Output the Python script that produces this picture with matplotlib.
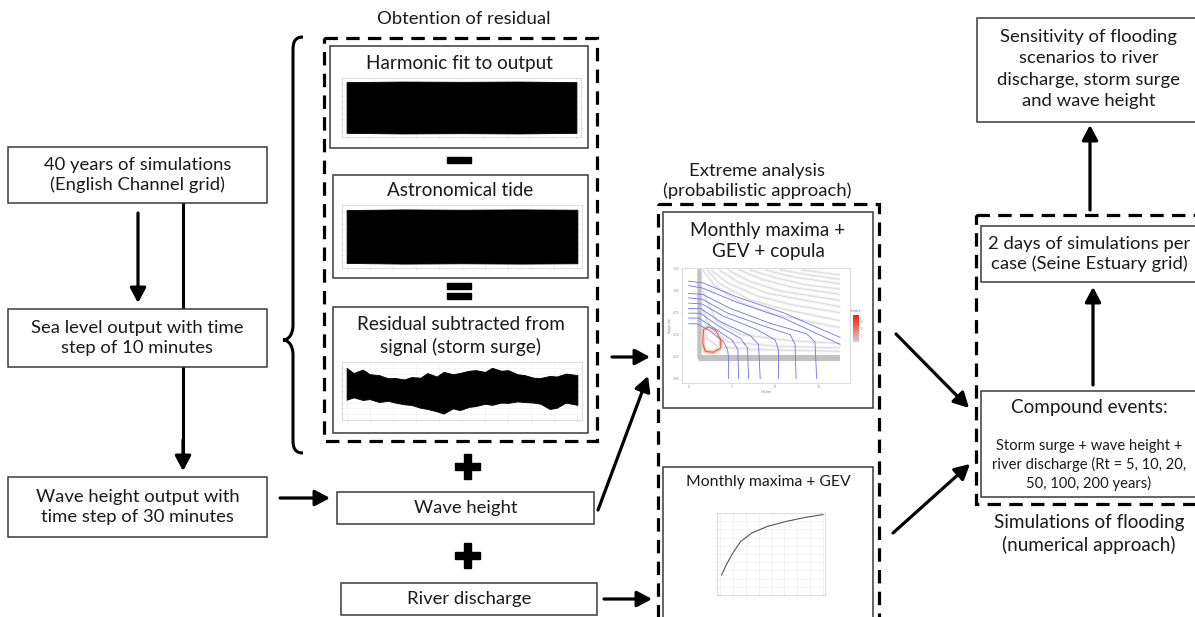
import numpy as np
import matplotlib.pyplot as plt
import matplotlib as mpl
from matplotlib.patches import Rectangle, PathPatch, Polygon
from matplotlib.path import Path
from matplotlib.colors import LinearSegmentedColormap, Normalize

plt.rcParams['font.family'] = ['Lato', 'DejaVu Sans']

W, H = 1195, 617

# ---- texts ----
left_labels = ["40 years of simulations\n(English Channel grid)",
               "Sea level output with time\nstep of 10 minutes",
               "Wave height output with\ntime step of 30 minutes"]
residual_title = "Obtention of residual"
residual_panels = ["Harmonic fit to output", "Astronomical tide",
                   "Residual subtracted from\nsignal (storm surge)"]
input_labels = ["Wave height", "River discharge"]
extreme_title = "Extreme analysis\n(probabilistic approach)"
extreme_panels = ["Monthly maxima +\nGEV + copula", "Monthly maxima + GEV"]
flood_title = "Simulations of flooding\n(numerical approach)"
days_label = "2 days of simulations per\ncase (Seine Estuary grid)"
compound_head = "Compound events:"
compound_body = "Storm surge + wave height +\nriver discharge (Rt = 5, 10, 20,\n50, 100, 200 years)"
sensitivity_label = "Sensitivity of flooding\nscenarios to river\ndischarge, storm surge\nand wave height"

# ---- thumbnail signals (envelopes) ----
harmonic_t = [0, 0.25, 0.5, 0.75, 1.0]
harmonic_upper = [0.86, 0.88, 0.87, 0.88, 0.86]
harmonic_lower = [-0.86, -0.88, -0.87, -0.88, -0.86]
tide_upper = [0.84, 0.86, 0.85, 0.86, 0.85]
tide_lower = [-0.84, -0.86, -0.85, -0.86, -0.85]

resid_t = [0.0, 0.03, 0.07, 0.10, 0.14, 0.18, 0.21, 0.25, 0.28, 0.32, 0.35, 0.39, 0.42, 0.46,
           0.49, 0.53, 0.56, 0.60, 0.63, 0.67, 0.70, 0.74, 0.77, 0.81, 0.84, 0.88, 0.91, 0.95, 1.0]
resid_upper = [0.80, 0.62, 0.74, 0.58, 0.55, 0.44, 0.45, 0.40, 0.48, 0.46, 0.62, 0.50, 0.66,
               0.58, 0.62, 0.70, 0.72, 0.66, 0.80, 0.70, 0.72, 0.58, 0.55, 0.46, 0.45, 0.52,
               0.50, 0.60, 0.55]
resid_lower = [-0.30, -0.22, -0.31, -0.28, -0.38, -0.34, -0.40, -0.46, -0.48, -0.58, -0.62,
               -0.70, -0.78, -0.60, -0.66, -0.55, -0.52, -0.44, -0.48, -0.40, -0.41, -0.36,
               -0.38, -0.40, -0.44, -0.62, -0.58, -0.40, -0.48]

# copula thumbnail: return-level curves (Hs, surge)
copula_curves = [
    [(0, 0.625), (0.96, 0.625), (2.5, 0.54), (4.04, 0.42), (4.5, 0.33), (4.62, 0.22), (4.62, 0)],
    [(0, 0.69), (1.15, 0.69), (2.88, 0.58), (5.0, 0.44), (5.69, 0.33), (5.77, 0)],
    [(0, 0.745), (1.35, 0.745), (3.27, 0.61), (5.96, 0.46), (6.81, 0.35), (6.92, 0)],
    [(0, 0.80), (1.42, 0.795), (3.65, 0.65), (7.12, 0.49), (8.08, 0.39), (8.27, 0)],
    [(0, 0.86), (1.54, 0.85), (4.04, 0.71), (7.88, 0.56), (10.0, 0.44), (10.38, 0.33), (10.38, 0)],
    [(0, 0.92), (1.54, 0.905), (4.42, 0.75), (8.65, 0.60), (11.73, 0.50), (12.3, 0.39), (12.42, 0)],
    [(0, 0.97), (1.62, 0.96), (4.81, 0.80), (9.42, 0.63), (13.65, 0.51), (14.6, 0.42), (14.8, 0)],
    [(0, 1.06), (1.65, 1.03), (5.58, 0.87), (10.96, 0.69), (17.5, 0.39)],
    [(0, 1.11), (1.65, 1.09), (5.58, 0.93), (10.96, 0.75), (17.5, 0.47)],
]
density_contours = [
    [(1.6, 1.24), (3.0, 1.06), (6.0, 0.87), (10.0, 0.73), (17.5, 0.58)],
    [(2.1, 1.24), (3.6, 1.08), (7.0, 0.90), (11.0, 0.79), (17.5, 0.66)],
    [(2.6, 1.24), (4.5, 1.09), (8.0, 0.94), (12.0, 0.84), (17.5, 0.75)],
    [(3.5, 1.24), (5.7, 1.10), (9.2, 0.97), (17.5, 0.82)],
    [(4.5, 1.24), (7.0, 1.11), (10.5, 1.00), (17.5, 0.89)],
    [(5.8, 1.24), (8.5, 1.13), (12.0, 1.04), (17.5, 0.96)],
    [(7.0, 1.24), (10.0, 1.15), (13.5, 1.07), (17.5, 1.02)],
    [(8.8, 1.24), (12.0, 1.16), (17.5, 1.08)],
    [(10.5, 1.24), (14.0, 1.18), (17.5, 1.13)],
    [(13.0, 1.24), (17.5, 1.18)],
    [(1.6, 0.60), (2.2, 0.45), (3.5, 0.36), (8.0, 0.33), (17.5, 0.31)],
    [(1.6, 0.80), (2.6, 0.55), (4.5, 0.42), (10.0, 0.37), (17.5, 0.35)],
    [(1.6, 1.00), (3.2, 0.66), (6.0, 0.50), (12.0, 0.43), (17.5, 0.40)],
]
red_loop = [(1.73, 0.56), (2.31, 0.59), (3.08, 0.55), (3.7, 0.45), (3.7, 0.35),
            (2.88, 0.30), (1.92, 0.31), (1.62, 0.405)]
copula_xticks = [0, 5, 10, 15]
copula_yticks = [0.00, 0.25, 0.50, 0.75, 1.00, 1.25]

# GEV thumbnail
gev_x = [0.015, 0.06, 0.123, 0.2, 0.308, 0.46, 0.646, 0.83, 1.0]
gev_y = [0.245, 0.367, 0.51, 0.653, 0.755, 0.837, 0.898, 0.947, 0.98]

fig = plt.figure(figsize=(W / 100, H / 100), dpi=100)
ax = fig.add_axes([0, 0, 1, 1])
ax.set_xlim(0, W)
ax.set_ylim(H, 0)
ax.axis('off')

FS = 13.3
EDGE = '#3a3a3a'


def box(x0, y0, x1, y1, dashed=False, z=3):
    if dashed:
        r = Rectangle((x0, y0), x1 - x0, y1 - y0, fill=False, ec='black', lw=2.3,
                      ls=(0, (4.2, 2.6)), zorder=z)
    else:
        r = Rectangle((x0, y0), x1 - x0, y1 - y0, fc='white', ec=EDGE, lw=1.1, zorder=z)
    ax.add_patch(r)


def arrow(x0, y0, x1, y1):
    ax.annotate('', xy=(x1, y1), xytext=(x0, y0),
                arrowprops=dict(arrowstyle='-|>,head_length=0.6,head_width=0.32', lw=2.3,
                                color='black', shrinkA=0, shrinkB=0, mutation_scale=15),
                zorder=2)


def label(x, y, s, fs=FS, ls=1.3, **kw):
    ax.text(x, y, s, ha='center', va='center', fontsize=fs, color='#1a1a1a',
            linespacing=ls, zorder=5, **kw)


def inset(x0, y0, x1, y1):
    a = fig.add_axes([x0 / W, 1 - y1 / H, (x1 - x0) / W, (y1 - y0) / H])
    for s in a.spines.values():
        s.set_color('#cfcfcf')
        s.set_linewidth(0.5)
    a.tick_params(length=1, width=0.4, colors='#999999', labelsize=2.5, pad=0.5)
    return a


# ---- left column ----
left_boxes = [(8, 147, 267, 203), (8, 309, 267, 367), (8, 477, 267, 537)]
ax.plot([183, 183], [203, 462], color='black', lw=2.2, zorder=1)
arrow(183, 440, 183, 471)
arrow(138, 213, 138, 303)
for (x0, y0, x1, y1), s in zip(left_boxes, left_labels):
    box(x0, y0, x1, y1)
    label((x0 + x1) / 2, (y0 + y1) / 2, s)
arrow(280, 498, 330, 498)

# curly brace
verts = [(303, 37), (295, 37), (293, 42), (293, 50),
         (293, 325),
         (293, 335), (288, 340), (283, 340),
         (288, 340), (293, 345), (293, 355),
         (293, 440),
         (293, 448), (295, 453), (303, 453)]
codes = [Path.MOVETO, Path.CURVE4, Path.CURVE4, Path.CURVE4,
         Path.LINETO,
         Path.CURVE4, Path.CURVE4, Path.CURVE4,
         Path.CURVE4, Path.CURVE4, Path.CURVE4,
         Path.LINETO,
         Path.CURVE4, Path.CURVE4, Path.CURVE4]
ax.add_patch(PathPatch(Path(verts, codes), fc='none', ec='black', lw=2.2))

# ---- residual block ----
label(464, 19, residual_title)
box(324, 38, 597, 441, dashed=True)
panel_boxes = [(330, 46, 588, 148), (333, 175, 588, 278), (333, 307, 588, 433)]
title_y = [63, 191, 336]
for (x0, y0, x1, y1), ty, s in zip(panel_boxes, title_y, residual_panels):
    box(x0, y0, x1, y1)
    label((x0 + x1) / 2, ty, s, fs=FS + 0.3)

signal_axes = [(342, 78, 581, 137), (342, 205, 582, 268), (342, 362, 582, 420)]
signals = [(harmonic_t, harmonic_upper, harmonic_lower),
           (harmonic_t, tide_upper, tide_lower),
           (resid_t, resid_upper, resid_lower)]
for (x0, y0, x1, y1), (t, up, lo) in zip(signal_axes, signals):
    a = inset(x0, y0, x1, y1)
    a.fill_between(t, lo, up, color='black', lw=0.6, ec='black')
    a.set_xlim(-0.02, 1.02)
    a.set_ylim(-1, 1)
    a.set_xticks(np.arange(0, 1.01, 0.1))
    a.set_yticks(np.arange(-0.8, 0.81, 0.2))
    a.set_xticklabels([])
    a.set_yticklabels([])
    a.grid(color='#eeeeee', lw=0.4)
    a.set_axisbelow(True)

# minus and equals
ax.add_patch(Rectangle((447, 157), 24, 6, color='black'))
ax.add_patch(Rectangle((447, 283), 24, 5.5, color='black'))
ax.add_patch(Rectangle((447, 293), 24, 5.5, color='black'))
# plus signs
for cy in (466, 555):
    ax.add_patch(Rectangle((455, cy - 3.5), 25, 7, color='black'))
    ax.add_patch(Rectangle((464, cy - 12.5), 7, 25, color='black'))

# inputs
input_boxes = [(337, 492, 594, 524), (341, 583, 597, 615)]
for (x0, y0, x1, y1), s in zip(input_boxes, input_labels):
    box(x0, y0, x1, y1)
    label((x0 + x1) / 2, (y0 + y1) / 2, s)

arrow(612, 357, 650, 357)
arrow(598, 510, 648, 376)
arrow(604, 599, 652, 599)

# ---- extreme analysis ----
label(757, 181, extreme_title)
box(658, 204, 879, 640, dashed=True)
box(663, 212, 873, 408)
label(768, 241, extreme_panels[0], fs=FS + 0.3)
box(663, 467, 873, 620)
label(768, 482, extreme_panels[1], fs=FS - 2)

# copula thumbnail
c = inset(682, 268, 850, 383)
c.set_xlim(-0.77, 18.65)
c.set_ylim(-0.05, 1.26)
for pts in density_contours:
    px, py = zip(*pts)
    c.plot(px, py, color='#f0f0f0', lw=2.0, solid_capstyle='butt')
    c.plot(px, py, color='#d2d2d2', lw=0.4)
c.add_patch(Polygon([(1.0, 1.25), (1.5, 1.25), (1.5, 0.27), (17.5, 0.27), (17.5, 0.2),
                     (1.2, 0.2), (1.0, 0.24)], closed=True, fc='#c2c2c2', ec='none'))
rx, ry = zip(*(red_loop + red_loop[:1]))
c.fill(rx, ry, fc='white', ec='#f6c6b8', lw=3)
c.plot(rx, ry, color='#e0603f', lw=0.7)
for pts in copula_curves:
    px, py = zip(*pts)
    c.plot(px, py, color='#7070f0', lw=0.6)
c.set_xticks(copula_xticks)
c.set_yticks(copula_yticks)
c.set_yticklabels([f'{v:.2f}' for v in copula_yticks])
c.set_xlabel('Hs (m)', fontsize=2.5, labelpad=0.5, color='#777777')
c.set_ylabel('Surge (m)', fontsize=2.5, labelpad=0.5, color='#777777')

cb_ax = fig.add_axes([853 / W, 1 - 342 / H, 6 / W, 27 / H])
cmap = LinearSegmentedColormap.from_list('dens', ['#d0d0d0', '#ff1a00'])
cb = mpl.colorbar.ColorbarBase(cb_ax, cmap=cmap, norm=Normalize(0, 4))
cb.outline.set_visible(False)
cb.set_ticks([1, 2, 3])
cb_ax.tick_params(length=0.8, width=0.3, labelsize=2, pad=0.5, colors='#777777')
ax.text(856, 311, 'density', fontsize=2.5, ha='center', va='center', color='#777777')

# GEV thumbnail
g = inset(717, 513, 825, 595)
g.plot(gev_x, gev_y, color='#555555', lw=0.8)
g.set_xlim(-0.03, 1.02)
g.set_ylim(0, 1.0)
g.set_xticks(np.linspace(0, 1, 9))
g.set_yticks(np.arange(0, 1.01, 0.1))
g.set_xticklabels([])
g.set_yticklabels([])
g.grid(color='#ececec', lw=0.4)
g.set_axisbelow(True)

# ---- flooding simulations ----
arrow(896, 334, 969, 408)
arrow(893, 533, 970, 464)
box(976, 215, 1210, 504, dashed=True)
box(981, 226, 1205, 282)
label(1089, 254, days_label)
box(981, 391, 1205, 497)
label(1089, 408, compound_head, fs=FS + 0.3)
label(1089, 465, compound_body, fs=FS - 2.7)
label(1089, 534, flood_title, fs=FS + 0.3)
box(977, 18, 1205, 122)
label(1089, 69, sensitivity_label, ls=1.42)
arrow(1093, 385, 1093, 287)
arrow(1090, 210, 1090, 125)

fig.savefig('out.png', dpi=100)
